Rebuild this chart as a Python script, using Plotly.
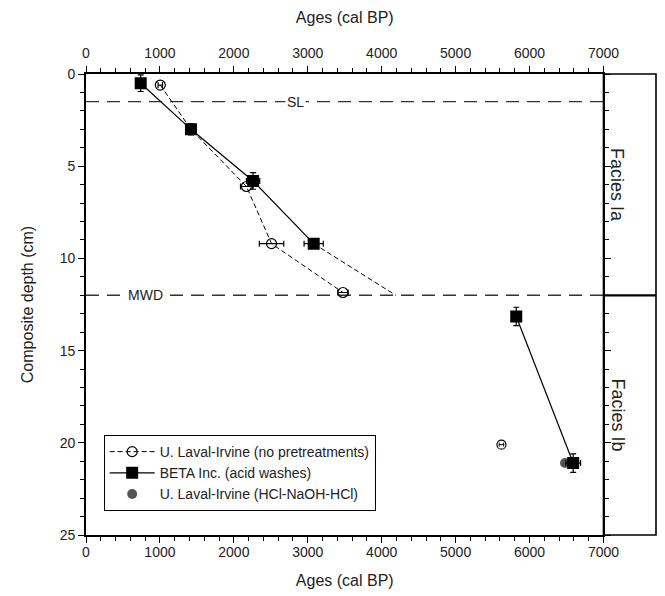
import plotly.graph_objects as go

# U. Laval-Irvine (no pretreatments)
np_age = [1005, 1420, 2170, 2510, 3476]
np_depth = [0.6, 3.0, 6.1, 9.2, 11.85]
np_err = [30, 60, 80, 165, 70]
np_iso_age = [5620]
np_iso_depth = [20.1]
np_iso_err = [30]

# BETA Inc. (acid washes)
beta_age = [740, 1420, 2260, 3080]
beta_depth = [0.5, 3.0, 5.8, 9.2]
beta_xerr = [30, 60, 90, 130]
beta_yerr = [0.45, 0.3, 0.45, 0.15]
beta_lower_age = [5820, 6590]
beta_lower_depth = [13.15, 21.1]
beta_lower_xerr = [25, 100]
beta_lower_yerr = [0.5, 0.5]

# extrapolation of BETA to MWD
extrap_age = [3080, 4190]
extrap_depth = [9.2, 12.0]

# U. Laval-Irvine (HCl-NaOH-HCl)
hcl_age = [6480]
hcl_depth = [21.1]

sl_depth = 1.5
mwd_depth = 12.0

xticks = [0, 1000, 2000, 3000, 4000, 5000, 6000, 7000]
yticks = [0, 5, 10, 15, 20, 25]

FONT = "Liberation Sans, Arial, sans-serif"
W, H = 665, 596
L, R, T, B = 78, 1, 66, 69
plot_w = W - L - R
xdom_end = (610 - L) / plot_w

fig = go.Figure()

fig.add_trace(go.Scatter(
    x=extrap_age, y=extrap_depth, mode="lines",
    line=dict(color="black", width=1, dash="5px,3px"), showlegend=False))

fig.add_trace(go.Scatter(
    x=np_age, y=np_depth, mode="lines+markers",
    name="U. Laval-Irvine (no pretreatments)",
    line=dict(color="black", width=1, dash="5px,3px"),
    marker=dict(symbol="circle-open", size=10, color="black", line=dict(width=1.2)),
    error_x=dict(type="data", array=np_err, color="black", thickness=1.2, width=3)))

fig.add_trace(go.Scatter(
    x=np_iso_age, y=np_iso_depth, mode="markers", showlegend=False,
    marker=dict(symbol="circle-open", size=9, color="black", line=dict(width=1.2)),
    error_x=dict(type="data", array=np_iso_err, color="black", thickness=1, width=2)))

fig.add_trace(go.Scatter(
    x=beta_age, y=beta_depth, mode="lines+markers",
    name="BETA Inc. (acid washes)",
    line=dict(color="black", width=1.2),
    marker=dict(symbol="square", size=12, color="black"),
    error_x=dict(type="data", array=beta_xerr, color="black", thickness=1.2, width=3),
    error_y=dict(type="data", array=beta_yerr, color="black", thickness=1.2, width=3)))

fig.add_trace(go.Scatter(
    x=hcl_age, y=hcl_depth, mode="markers",
    name="U. Laval-Irvine (HCl-NaOH-HCl)",
    marker=dict(symbol="circle", size=10, color="#555555")))

fig.add_trace(go.Scatter(
    x=beta_lower_age, y=beta_lower_depth, mode="lines+markers", showlegend=False,
    line=dict(color="black", width=1.2),
    marker=dict(symbol="square", size=12, color="black"),
    error_x=dict(type="data", array=beta_lower_xerr, color="black", thickness=1.2, width=3),
    error_y=dict(type="data", array=beta_lower_yerr, color="black", thickness=1.2, width=3)))

# dummy traces to activate top and right axes
fig.add_trace(go.Scatter(x=[0], y=[0], xaxis="x2", mode="markers",
                         marker=dict(opacity=0), showlegend=False, hoverinfo="skip"))
fig.add_trace(go.Scatter(x=[0], y=[0], yaxis="y2", mode="markers",
                         marker=dict(opacity=0), showlegend=False, hoverinfo="skip"))

axis_common = dict(showgrid=False, zeroline=False, showline=True, linecolor="black",
                   linewidth=1.6, ticks="outside", ticklen=6, tickwidth=1.3,
                   tickcolor="black", tickfont=dict(family=FONT, size=14, color="#222"))
minor_x = dict(dtick=200, ticks="outside", ticklen=4, tickcolor="black", tickwidth=1.2)
minor_y = dict(dtick=1, ticks="outside", ticklen=4, tickcolor="black", tickwidth=1.2)

fig.update_layout(
    width=W, height=H,
    margin=dict(l=L, r=R, t=T, b=B),
    paper_bgcolor="white", plot_bgcolor="white",
    font=dict(family=FONT, color="#222"),
    xaxis=dict(domain=[0, xdom_end], range=[0, 7000], tickvals=xticks, minor=minor_x,
               ticklabelstandoff=-3,
               title=dict(text="Ages (cal BP)", font=dict(size=16, family=FONT), standoff=16),
               **axis_common),
    xaxis2=dict(domain=[0, xdom_end], range=[0, 7000], tickvals=xticks, overlaying="x",
                side="top", anchor="y", minor=minor_x, ticklabelstandoff=3,
                title=dict(text="Ages (cal BP)", font=dict(size=16, family=FONT), standoff=17),
                **axis_common),
    yaxis=dict(range=[25, 0], tickvals=yticks, minor=minor_y,
               title=dict(text="Composite depth (cm)", font=dict(size=16, family=FONT), standoff=22),
               **axis_common),
    yaxis2=dict(range=[25, 0], tickvals=yticks, overlaying="y", side="right", anchor="x",
                showticklabels=False, minor=minor_y, **axis_common),
    legend=dict(x=0.031, y=0.052, xanchor="left", yanchor="bottom",
                bgcolor="white", bordercolor="black", borderwidth=1,
                font=dict(family=FONT, size=14, color="#222"),
                tracegroupgap=0, itemwidth=45),
    showlegend=True,
)

# SL and MWD dashed lines
for d in (sl_depth, mwd_depth):
    fig.add_shape(type="line", xref="x", yref="y", x0=0, x1=7000, y0=d, y1=d,
                  line=dict(color="#333", width=1.4, dash="13px,8px"), layer="below")

fig.add_annotation(x=2840, y=sl_depth, xref="x", yref="y", text="SL", showarrow=False,
                   bgcolor="white", font=dict(family=FONT, size=14, color="#222"))
fig.add_annotation(x=800, y=mwd_depth, xref="x", yref="y", text="MWD", showarrow=False,
                   bgcolor="white", font=dict(family=FONT, size=14, color="#222"))

# right facies panel
fig.add_shape(type="rect", xref="paper", yref="paper", x0=xdom_end, x1=1, y0=0, y1=1,
              line=dict(color="black", width=1.6))
fig.add_shape(type="line", xref="paper", yref="y", x0=xdom_end, x1=1, y0=mwd_depth, y1=mwd_depth,
              line=dict(color="black", width=2.2))
xmid = (xdom_end + 1) / 2
fig.add_annotation(x=xmid, y=6, xref="paper", yref="y", text="Facies Ia", textangle=90,
                   showarrow=False, font=dict(family=FONT, size=18, color="#222"))
fig.add_annotation(x=xmid, y=18.5, xref="paper", yref="y", text="Facies Ib", textangle=90,
                   showarrow=False, font=dict(family=FONT, size=18, color="#222"))

fig.write_html("out.html")
